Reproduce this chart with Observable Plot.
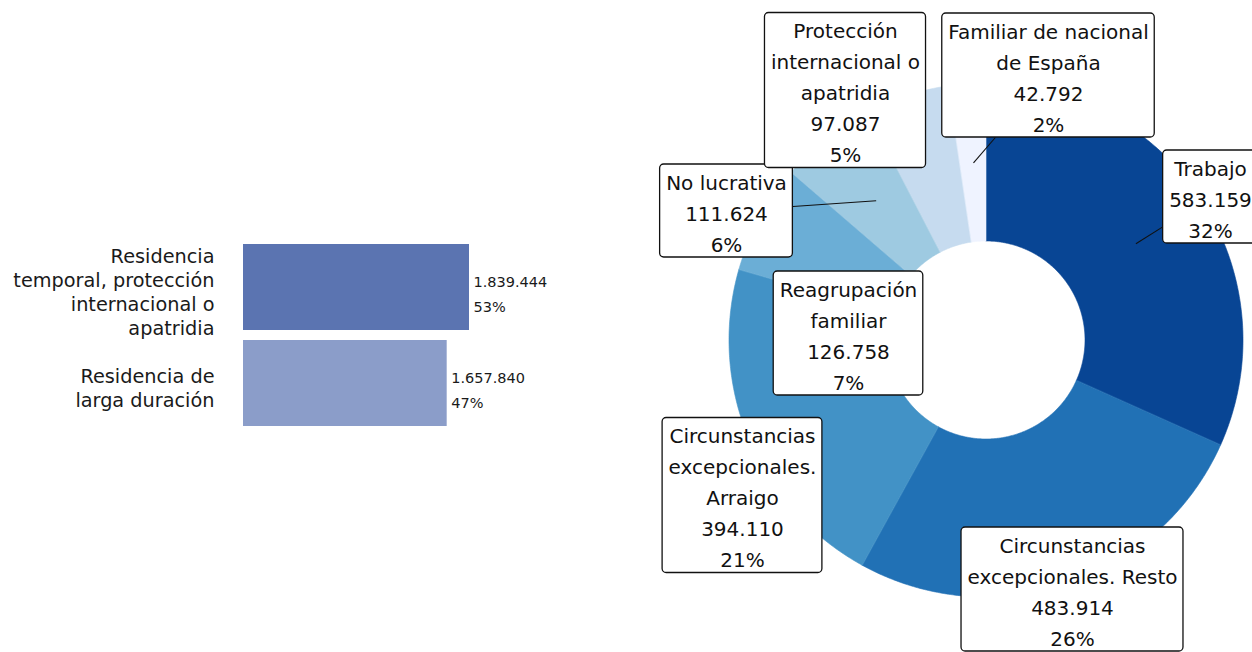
<!DOCTYPE html>
<html>
<head>
<meta charset="utf-8">
<script src="https://cdn.jsdelivr.net/npm/d3@7"></script>
<script src="https://cdn.jsdelivr.net/npm/@observablehq/plot@0.6"></script>
<style>
  html, body { margin: 0; padding: 0; background: #fff; }
  #chart { position: relative; width: 1252px; height: 652px; overflow: hidden; }
  #chart > svg { position: absolute; top: 0; }
</style>
</head>
<body>
<div id="chart"></div>
<script>
// ---------- data ----------
const barCategories = [
  "Residencia\ntemporal, protección\ninternacional o\napatridia",
  "Residencia de\nlarga duración"
];
const barValues = [1839444, 1657840];

const donutCategories = [
  "Trabajo",
  "Circunstancias excepcionales. Resto",
  "Circunstancias excepcionales. Arraigo",
  "Reagrupación familiar",
  "No lucrativa",
  "Protección internacional o apatridia",
  "Familiar de nacional de España"
];
const donutLabels = [
  "Trabajo",
  "Circunstancias\nexcepcionales. Resto",
  "Circunstancias\nexcepcionales.\nArraigo",
  "Reagrupación\nfamiliar",
  "No lucrativa",
  "Protección\ninternacional o\napatridia",
  "Familiar de nacional\nde España"
];
const donutValues = [583159, 483914, 394110, 126758, 111624, 97087, 42792];

// ---------- layout / style (not data) ----------
const barColors = ["#5b74b1", "#8b9dc9"];
const donutColors = d3.schemeBlues[7].slice().reverse();
const labelDX = [224, 86, -244, -138, -260, -141, 62];       // label box centre offsets from donut centre (px)
const labelDY = [-143.5, 249, 155, -7, -129.5, -250, -265];
const R_OUT = 257, R_IN = 99, R_LABEL = 178;
const FONT = "DejaVu Sans";

const fmt = d3.formatLocale({decimal: ",", thousands: ".", grouping: [3], currency: ["", " €"]}).format(",d");

// ---------- bar chart ----------
const barTotal = d3.sum(barValues);
const bars = barCategories.map((c, i) => ({
  cat: c,
  value: barValues[i],
  label: fmt(barValues[i]) + "\n" + Math.round(barValues[i] / barTotal * 100) + "%"
}));

const barPlot = Plot.plot({
  width: 620,
  height: 652,
  x: {domain: [0, d3.max(barValues)], range: [243, 469], axis: null},
  y: {domain: barCategories, range: [239, 431], padding: 0, axis: null},
  color: {domain: barCategories, range: barColors},
  style: {fontFamily: FONT, background: "transparent"},
  marks: [
    Plot.barX(bars, {x: "value", y: "cat", fill: "cat", insetTop: 5, insetBottom: 5}),
    Plot.text(bars, {x: () => 0, y: "cat", text: "cat", textAnchor: "end", dx: -29, dy: 4,
      fontSize: 19.3, lineHeight: 1.24, fill: "#1a1a1a"}),
    Plot.text(bars, {x: "value", y: "cat", text: "label", textAnchor: "start", dx: 4, dy: 4,
      fontSize: 14.5, lineHeight: 1.72, fill: "#1a1a1a"})
  ]
});
barPlot.style.left = "0px";

// ---------- donut chart ----------
const donutTotal = d3.sum(donutValues);
const pie = d3.pie().sort(null)(donutValues);

const arcRows = [];
pie.forEach((p, i) => {
  const n = Math.max(2, Math.ceil((p.endAngle - p.startAngle) / (Math.PI / 360)));
  for (let k = 0; k <= n; k++) {
    const a = p.startAngle + (p.endAngle - p.startAngle) * k / n;
    arcRows.push({
      cat: donutCategories[i],
      x1: R_IN * Math.sin(a), y1: -R_IN * Math.cos(a),
      x2: R_OUT * Math.sin(a), y2: -R_OUT * Math.cos(a)
    });
  }
});

const ctx = document.createElement("canvas").getContext("2d");
ctx.font = `20px '${FONT}'`;

const labelRows = pie.map((p, i) => {
  const mid = (p.startAngle + p.endAngle) / 2;
  const text = donutLabels[i] + "\n" + fmt(donutValues[i]) + "\n" + Math.round(donutValues[i] / donutTotal * 100) + "%";
  const lines = text.split("\n");
  const w = d3.max(lines, l => ctx.measureText(l).width) + 12;
  const h = lines.length * 31;
  const bx = labelDX[i], by = labelDY[i];
  const ax = R_LABEL * Math.sin(mid), ay = -R_LABEL * Math.cos(mid);
  // segment from anchor toward box centre, clipped at the box edge
  const dx = ax - bx, dy = ay - by;
  const s = Math.min(dx ? (w / 2) / Math.abs(dx) : Infinity, dy ? (h / 2) / Math.abs(dy) : Infinity);
  const ex = bx + s * dx, ey = by + s * dy;
  const segLen = s < 1 ? Math.hypot(ax - ex, ay - ey) : 0;
  return {cat: donutCategories[i], text, bx, by, w, h, ax, ay, ex, ey, segLen};
});
const leaders = labelRows.filter(d => d.segLen > 20);

const donutPlot = Plot.plot({
  width: 612,
  height: 652,
  x: {domain: [-R_OUT, R_OUT], range: [346 - R_OUT, 346 + R_OUT], axis: null},
  y: {domain: [-R_OUT, R_OUT], range: [340 - R_OUT, 340 + R_OUT], axis: null},
  color: {type: "ordinal", domain: donutCategories, range: donutColors},
  style: {fontFamily: FONT, background: "transparent"},
  marks: [
    Plot.area(arcRows, {x1: "x1", y1: "y1", x2: "x2", y2: "y2", z: "cat", fill: "cat",
      stroke: "cat", strokeWidth: 0.6, curve: "linear"}),
    Plot.link(leaders, {x1: "ax", y1: "ay", x2: "ex", y2: "ey", stroke: "#111", strokeWidth: 1.1}),
    Plot.rect(labelRows, {x1: d => d.bx - d.w / 2, x2: d => d.bx + d.w / 2,
      y1: d => d.by - d.h / 2, y2: d => d.by + d.h / 2,
      fill: "white", stroke: "#111", strokeWidth: 1.3, rx: 4}),
    Plot.text(labelRows, {x: "bx", y: "by", text: "text", lineAnchor: "middle", lineHeight: 1.55,
      fontSize: 20, fill: "#111"})
  ]
});
donutPlot.style.left = "640px";

const chart = document.getElementById("chart");
chart.appendChild(barPlot);
chart.appendChild(donutPlot);
</script>
</body>
</html>
